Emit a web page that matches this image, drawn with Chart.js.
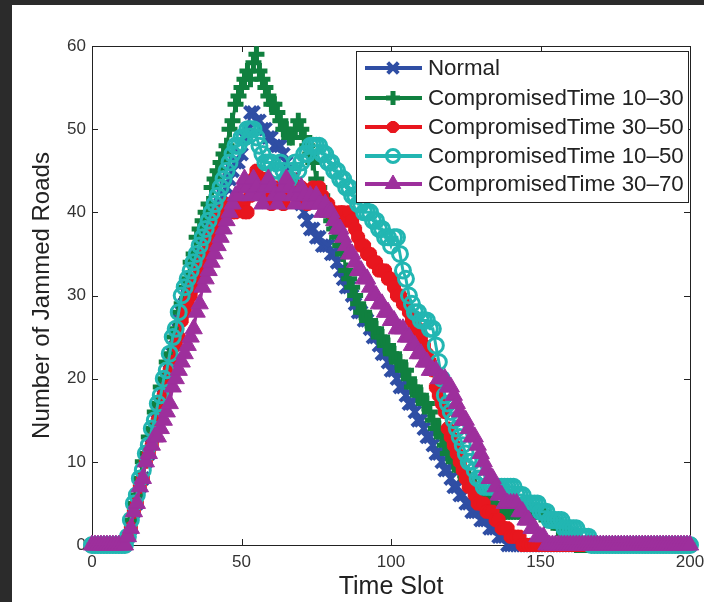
<!DOCTYPE html>
<html>
<head>
<meta charset="utf-8">
<script src="https://cdn.jsdelivr.net/npm/chart.js@4.4.1/dist/chart.umd.min.js"></script>
<style>
  html, body { margin: 0; padding: 0; background: #2b2b2b; width: 704px; height: 602px; overflow: hidden; }
  #wrap { position: absolute; left: 12px; top: 5px; width: 692px; height: 597px; background: #ffffff; }
  canvas { display: block; }
</style>
</head>
<body>
<div id="wrap"><canvas id="chart-jam" width="692" height="597"></canvas></div>
<script>
// time slots 0..200 on the x axis
const timeSlots = Array.from({ length: 201 }, (_, i) => i);
const xTicks = [0, 50, 100, 150, 200];
const yTicks = [0, 10, 20, 30, 40, 50, 60];

const seriesNames = ['Normal', 'CompromisedTime 10\u201330', 'CompromisedTime 30\u201350',
                     'CompromisedTime 10\u201350', 'CompromisedTime 30\u201370'];

// number of jammed roads per time slot
const normal = [
  0,0,0,0,0,0,0,0,0,0,
  0,0,1,2,4,5,7,8,10,11,
  13,14,16,17,19,20,22,23,25,27,
  28,29,30,31,32,33,34,35,36,37,
  38,39,40,41,42,43,44,45,46,46,
  47,49,50,52,52,51,51,50,50,49,
  49,48,48,48,47,46,45,44,43,42,
  41,40,39,38,38,37,37,36,36,36,
  35,35,34,33,32,31,31,30,29,28,
  28,27,27,26,25,25,24,23,23,22,
  21,21,20,19,19,18,17,17,16,15,
  15,14,13,13,12,11,11,10,9,9,
  8,7,7,6,6,5,5,4,4,4,
  3,3,3,2,2,2,1,1,1,0,
  0,0,0,0,0,0,0,0,0,0,
  0,0,0,0,0,0,0,0,0,0,
  0,0,0,0,0,0,0,0,0,0,
  0,0,0,0,0,0,0,0,0,0,
  0,0,0,0,0,0,0,0,0,0,
  0,0,0,0,0,0,0,0,0,0,
  0
];
const comp1030 = [
  0,0,0,0,0,0,0,0,0,0,
  0,0,1,3,5,6,8,10,11,13,
  14,16,17,19,20,22,23,25,26,28,
  29,31,32,34,35,37,38,39,40,41,
  43,44,45,46,47,48,50,51,53,54,
  55,56,57,56,58,59,57,56,55,54,
  53,53,52,51,50,50,49,49,50,51,
  50,49,48,47,46,44,43,42,41,40,
  39,38,37,36,35,33,32,31,30,29,
  28,28,27,27,26,26,25,25,24,24,
  23,23,22,22,21,21,20,19,19,18,
  18,17,17,16,15,14,14,13,12,11,
  11,10,10,9,9,8,8,7,7,6,
  6,6,5,5,5,5,4,4,4,4,
  4,4,4,4,4,4,4,4,4,4,
  4,4,3,3,3,3,2,2,2,1,
  1,1,0,0,0,0,0,0,0,0,
  0,0,0,0,0,0,0,0,0,0,
  0,0,0,0,0,0,0,0,0,0,
  0,0,0,0,0,0,0,0,0,0,
  0
];
const comp3050 = [
  0,0,0,0,0,0,0,0,0,0,
  0,0,1,2,4,5,7,8,10,11,
  12,13,15,16,18,19,21,22,24,25,
  27,28,29,30,31,32,33,34,35,36,
  37,38,39,40,40,41,41,40,40,41,
  41,40,40,42,44,45,44,43,44,42,
  41,42,43,42,41,42,43,44,43,42,
  43,42,41,42,43,42,43,42,41,41,
  40,40,39,40,40,39,40,39,38,37,
  36,36,35,35,34,34,33,33,33,32,
  32,31,30,30,29,29,28,27,26,26,
  25,24,23,22,21,19,18,17,16,14,
  13,12,11,10,9,8,7,7,6,5,
  5,5,4,4,4,3,3,2,2,2,
  1,1,1,1,0,0,0,0,0,0,
  0,0,0,0,0,0,0,0,0,0,
  0,0,0,0,0,0,0,0,0,0,
  0,0,0,0,0,0,0,0,0,0,
  0,0,0,0,0,0,0,0,0,0,
  0,0,0,0,0,0,0,0,0,0,
  0
];
const comp1050 = [
  0,0,0,0,0,0,0,0,0,0,
  0,0,1,3,5,6,8,9,11,12,
  14,15,17,18,20,21,23,25,26,28,
  30,31,32,33,34,35,36,37,38,39,
  40,41,42,43,44,45,46,47,48,48,
  49,49,50,50,50,49,48,47,46,46,
  46,45,45,46,45,44,44,45,46,45,
  46,47,47,48,48,48,48,47,47,46,
  46,45,45,44,44,43,43,42,42,41,
  41,40,40,40,39,39,38,38,37,37,
  36,37,37,35,33,32,30,29,28,28,
  27,27,27,26,26,24,22,20,18,17,
  16,15,14,13,12,11,10,10,9,8,
  8,7,7,7,7,7,7,7,7,7,
  7,7,6,6,6,5,5,5,5,5,
  4,4,4,3,3,3,3,3,2,2,
  2,2,2,1,1,1,1,0,0,0,
  0,0,0,0,0,0,0,0,0,0,
  0,0,0,0,0,0,0,0,0,0,
  0,0,0,0,0,0,0,0,0,0,
  0
];
const comp3070 = [
  0,0,0,0,0,0,0,0,0,0,
  0,0,1,2,4,5,7,8,10,11,
  12,13,13,14,15,16,17,19,20,21,
  22,23,24,25,26,28,29,31,32,33,
  34,35,36,37,38,39,40,41,42,42,
  43,44,43,42,44,43,42,41,43,44,
  43,42,41,42,43,44,43,42,41,42,
  43,42,41,42,41,42,41,40,41,40,
  40,39,38,38,37,36,35,35,34,33,
  33,32,32,31,30,30,29,29,28,28,
  27,27,26,26,26,25,25,24,24,23,
  23,22,22,21,21,21,20,20,20,19,
  19,18,17,16,15,15,14,13,13,12,
  11,10,9,8,8,7,6,6,5,5,
  5,5,5,4,4,3,3,2,2,1,
  1,1,0,0,0,0,0,0,0,0,
  0,0,0,0,0,0,0,0,0,0,
  0,0,0,0,0,0,0,0,0,0,
  0,0,0,0,0,0,0,0,0,0,
  0,0,0,0,0,0,0,0,0,0,
  0
];

const seriesColors = ['#2f4ea4', '#10803f', '#e8161e', '#22b6b2', '#9d2f9c'];
const markerStyles = [
  { pointStyle: 'crossRot', radius: 8.5, width: 4, fill: '#2f4ea4' },
  { pointStyle: 'cross', radius: 8, width: 5, fill: '#10803f' },
  { pointStyle: 'star', radius: 7, width: 5, fill: '#e8161e' },
  { pointStyle: 'circle', radius: 7.5, width: 3, fill: 'rgba(255,255,255,0)' },
  { pointStyle: 'triangle', radius: 10, width: 1, fill: '#9d2f9c' }
];
const seriesValues = [normal, comp1030, comp3050, comp1050, comp3070];

function makeDataset(i) {
  const m = markerStyles[i];
  return {
    label: seriesNames[i],
    data: seriesValues[i],
    borderColor: seriesColors[i],
    backgroundColor: seriesColors[i],
    borderWidth: 3,
    tension: 0,
    pointStyle: m.pointStyle,
    pointRadius: m.radius,
    pointBorderWidth: m.width,
    pointBorderColor: seriesColors[i],
    pointBackgroundColor: m.fill,
    clip: false,
    order: 5 - i   // matlab draws the last series on top
  };
}

const fontName = '"Liberation Sans", Arial, Helvetica, sans-serif';

// box round the plot, ticks pointing inward like matlab
const framePlugin = {
  id: 'frame',
  beforeDatasetsDraw(chart) {
    const { ctx, chartArea: a, scales } = chart;
    ctx.save();
    ctx.strokeStyle = '#222';
    ctx.lineWidth = 1;
    ctx.strokeRect(a.left + 0.5, a.top + 0.5, a.right - a.left, a.bottom - a.top);
    ctx.beginPath();
    xTicks.forEach(v => {
      const x = Math.round(scales.x.getPixelForValue(v)) + 0.5;
      ctx.moveTo(x, a.bottom); ctx.lineTo(x, a.bottom - 6);
      ctx.moveTo(x, a.top); ctx.lineTo(x, a.top + 6);
    });
    yTicks.forEach(v => {
      const y = Math.round(scales.y.getPixelForValue(v)) + 0.5;
      ctx.moveTo(a.left, y); ctx.lineTo(a.left + 6, y);
      ctx.moveTo(a.right, y); ctx.lineTo(a.right - 6, y);
    });
    ctx.stroke();
    ctx.restore();
  },
  afterDraw(chart) {
    // legend box in the upper right corner of the axes
    const ctx = chart.ctx;
    const bx = 344, by = 46, bw = 332, bh = 151;
    ctx.save();
    ctx.fillStyle = '#fff';
    ctx.fillRect(bx, by, bw, bh);
    ctx.strokeStyle = '#222';
    ctx.lineWidth = 1;
    ctx.strokeRect(bx + 0.5, by + 0.5, bw, bh);
    ctx.font = '22.3px ' + fontName;
    ctx.textBaseline = 'middle';
    const rows = [63, 93, 122, 151, 179];
    for (let i = 0; i < 5; i++) {
      const y = rows[i];
      ctx.strokeStyle = seriesColors[i];
      ctx.lineWidth = 4;
      ctx.beginPath();
      ctx.moveTo(353, y); ctx.lineTo(410, y);
      ctx.stroke();
      const m = markerStyles[i];
      ctx.fillStyle = m.fill;
      ctx.lineWidth = m.width;
      if (Chart.helpers && Chart.helpers.drawPoint) {
        Chart.helpers.drawPoint(ctx, { pointStyle: m.pointStyle, radius: m.radius - 1, borderWidth: m.width, rotation: 0 }, 381, y);
      }
      ctx.fillStyle = '#222';
      ctx.fillText(seriesNames[i], 416, y + 1);
    }
    ctx.restore();
  }
};

const ctx = document.getElementById('chart-jam').getContext('2d');
const chart_jam = new Chart(ctx, {
  type: 'line',
  data: {
    labels: timeSlots,
    datasets: [0, 1, 2, 3, 4].map(makeDataset)
  },
  options: {
    responsive: false,
    animation: false,
    events: [],
    layout: { padding: { top: 41, right: 14, left: 16, bottom: 0 } },
    plugins: { legend: { display: false }, tooltip: { enabled: false } },
    scales: {
      x: {
        type: 'linear',
        min: 0,
        max: 200,
        afterBuildTicks: s => { s.ticks = xTicks.map(v => ({ value: v })); },
        afterFit: s => { s.height = 57; s.paddingLeft = 0; s.paddingRight = 0; },
        grid: { display: false, drawTicks: false },
        border: { display: false },
        ticks: { padding: 7, color: '#333', font: { family: fontName, size: 17 }, maxRotation: 0 },
        title: { display: true, text: 'Time Slot', color: '#222', padding: 0, font: { family: fontName, size: 25 } }
      },
      y: {
        type: 'linear',
        min: 0,
        max: 60,
        afterBuildTicks: s => { s.ticks = yTicks.map(v => ({ value: v })); },
        afterFit: s => { s.width = 64; s.paddingTop = 0; s.paddingBottom = 0; },
        grid: { display: false, drawTicks: false },
        border: { display: false },
        ticks: { padding: 6, color: '#333', font: { family: fontName, size: 17 } },
        title: { display: true, text: 'Number of Jammed Roads', color: '#222', padding: 0, font: { family: fontName, size: 24 } }
      }
    }
  },
  plugins: [framePlugin]
});
</script>
</body>
</html>
